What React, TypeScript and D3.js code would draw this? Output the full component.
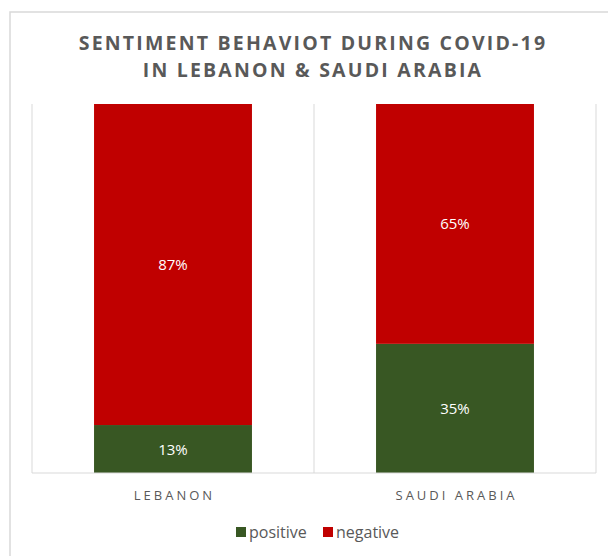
import React from "react";
import * as d3 from "d3";

const categories = ["LEBANON", "SAUDI ARABIA"];
const seriesNames = ["positive", "negative"];
const positiveValues = [0.13, 0.35];
const negativeValues = [0.87, 0.65];
const titleLines = ["SENTIMENT BEHAVIOT DURING COVID-19", "IN LEBANON & SAUDI ARABIA"];

const colors: Record<string, string> = { positive: "#385723", negative: "#C00000" };
const FONT = "'Open Sans', 'Liberation Sans', sans-serif";

export default function App() {
  const W = 608, H = 556;
  const left = 32, right = 596, top = 104, bottom = 473;
  const x = d3.scaleBand<string>().domain(categories).range([left, right]).paddingInner(0.44).paddingOuter(0.22);
  const y = d3.scaleLinear().domain([0, 1]).range([bottom, top]);

  const rows = categories.map((c, i) => ({ cat: c, positive: positiveValues[i], negative: negativeValues[i] }));
  const stack = d3.stack<any>().keys(seriesNames)(rows);
  const fmt = d3.format(".0%");
  const gridXs = [left, (left + right) / 2, right];

  return (
    <svg width={W} height={H} style={{ position: "absolute", left: 0, top: 0, background: "#fff" }}>
      <rect x={10} y={12} width={W + 20} height={H + 20} fill="#fff" stroke="#d9d9d9" strokeWidth={1.5} />
      {titleLines.map((t, i) => (
        <text key={t} x={313} y={50 + i * 27} textAnchor="middle" fontFamily={FONT} fontWeight={700}
          fontSize={19.5} letterSpacing={2.2} fill="#595959">{t}</text>
      ))}
      {gridXs.map((gx, i) => (
        <line key={i} x1={gx} x2={gx} y1={top} y2={bottom} stroke="#d9d9d9" strokeWidth={1} />
      ))}
      {stack.map((s) => (
        <g key={s.key}>
          {s.map((d, i) => (
            <rect key={i} x={x(d.data.cat)} y={y(d[1])} width={x.bandwidth()} height={y(d[0]) - y(d[1])} fill={colors[s.key]} />
          ))}
        </g>
      ))}
      <line x1={left} x2={right} y1={bottom} y2={bottom} stroke="#d9d9d9" strokeWidth={1} />
      {stack.map((s) => (
        <g key={s.key + "l"}>
          {s.map((d, i) => (
            <text key={i} x={(x(d.data.cat) as number) + x.bandwidth() / 2} y={(y(d[0]) + y(d[1])) / 2 + 5.5}
              textAnchor="middle" fontFamily={FONT} fontSize={15} fill="#fff">{fmt(d[1] - d[0])}</text>
          ))}
        </g>
      ))}
      {categories.map((c) => (
        <text key={c} x={(x(c) as number) + x.bandwidth() / 2 + 1.5} y={500} textAnchor="middle" fontFamily={FONT}
          fontSize={13} letterSpacing={3} fill="#595959">{c}</text>
      ))}
      <g>
        <rect x={236} y={527} width={10} height={10} fill={colors.positive} />
        <text x={249} y={538} fontFamily={FONT} fontSize={16} fill="#595959">positive</text>
        <rect x={323} y={527} width={10} height={10} fill={colors.negative} />
        <text x={336} y={538} fontFamily={FONT} fontSize={16} fill="#595959">negative</text>
      </g>
    </svg>
  );
}
